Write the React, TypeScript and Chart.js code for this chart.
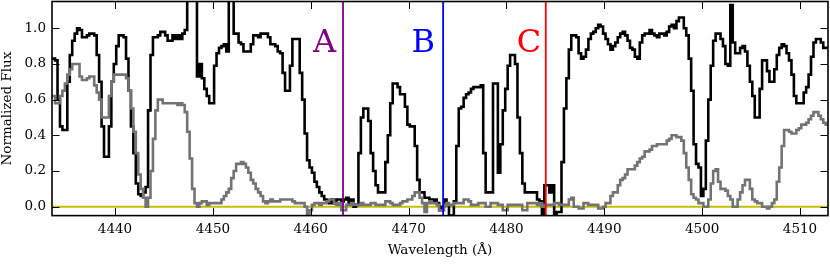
import React, { useEffect, useRef } from "react";
import { Chart, registerables } from "chart.js";

Chart.register(...registerables);

// Wavelength grid of the spectrum (Angstrom)
const WAVE_START = 4433.5;
const WAVE_STEP = 0.25;

// Observed normalized flux (black)
const OBSERVED = [
  0.83, 0.83, 0.82, 0.60, 0.45, 0.43, 0.43, 0.70,
  0.85, 0.93, 0.97, 1.00, 0.99, 0.95, 0.95, 0.96,
  0.97, 0.97, 0.96, 0.85, 0.70, 0.45, 0.28, 0.28,
  0.45, 0.70, 0.80, 0.90, 0.96, 0.96, 0.95, 0.83,
  0.65, 0.45, 0.30, 0.13, 0.07, 0.06, 0.08, 0.11,
  0.54, 0.85, 0.95, 0.95, 0.96, 0.98, 0.98, 0.96,
  0.93, 0.93, 0.96, 0.94, 0.96, 0.94, 0.97, 0.99,
  1.20, 1.20, 1.20, 1.20, 0.73, 0.80, 0.72, 0.66,
  0.62, 0.58, 0.58, 0.79, 0.86, 0.89, 0.90, 0.91,
  0.87, 1.20, 1.20, 0.97, 0.97, 0.92, 0.91, 0.87,
  0.87, 0.87, 0.91, 0.96, 0.96, 0.95, 0.97, 0.97,
  0.97, 0.95, 0.91, 0.91, 0.90, 0.87, 0.86, 0.75,
  0.65, 0.65, 0.79, 0.94, 0.94, 0.94, 0.75, 0.60,
  0.41, 0.26, 0.22, 0.19, 0.14, 0.11, 0.08, 0.06,
  0.04, 0.03, 0.02, 0.04, 0.02, 0.04, 0.04, 0.03,
  0.04, 0.05, 0.02, 0.04, 0.00, 0.01, 0.30, 0.50,
  0.55, 0.55, 0.48, 0.30, 0.20, 0.12, 0.08, 0.08,
  0.08, 0.25, 0.40, 0.58, 0.69, 0.69, 0.67, 0.63,
  0.63, 0.56, 0.46, 0.45, 0.45, 0.34, 0.15, 0.08,
  0.08, 0.05, 0.05, 0.04, 0.03, 0.04, 0.02, -0.02,
  0.00, 0.04, 0.01, -0.05, -0.05, 0.03, 0.34, 0.55,
  0.56, 0.61, 0.63, 0.64, 0.66, 0.67, 0.67, 0.67,
  0.68, 0.30, 0.08, 0.08, 0.08, 0.69, 0.69, 0.19,
  0.35, 0.54, 0.66, 0.79, 0.85, 0.85, 0.80, 0.50,
  0.30, 0.13, 0.08, 0.08, 0.08, 0.08, 0.08, 0.04,
  0.03, -0.05, 0.12, 0.12, 0.08, 0.12, -0.05, -0.03,
  -0.03, 0.25, 0.55, 0.72, 0.88, 0.96, 0.96, 0.95,
  0.86, 0.83, 0.84, 0.88, 0.94, 0.97, 0.98, 1.00,
  1.02, 1.01, 0.97, 0.94, 0.91, 0.88, 0.90, 0.92,
  0.95, 0.97, 0.98, 0.96, 0.93, 0.89, 0.88, 0.84,
  0.83, 0.92, 0.96, 0.97, 0.97, 0.99, 0.97, 0.96,
  0.95, 0.97, 0.97, 0.96, 0.98, 1.01, 1.02, 1.00,
  1.04, 1.06, 1.06, 1.00, 0.96, 0.83, 0.65, 0.35,
  0.24, 0.22, 0.06, 0.10, 0.37, 0.60, 0.79, 0.93,
  0.97, 0.97, 0.94, 0.90, 0.80, 0.79, 1.13, 0.92,
  0.86, 0.86, 0.89, 0.90, 0.87, 0.79, 0.70, 0.62,
  0.50, 0.50, 0.66, 0.82, 0.82, 0.76, 0.70, 0.70,
  0.77, 0.85, 0.89, 0.91, 0.90, 0.86, 0.82, 0.74,
  0.62, 0.58, 0.58, 0.58, 0.64, 0.67, 0.74, 0.84,
  0.92, 0.94, 0.94, 0.92, 0.89, 0.89, 0.89,
];

// Model normalized flux (grey)
const MODEL = [
  0.62, 0.62, 0.58, 0.58, 0.62, 0.65, 0.69, 0.74,
  0.77, 0.80, 0.80, 0.80, 0.73, 0.71, 0.71, 0.72,
  0.73, 0.73, 0.68, 0.64, 0.60, 0.50, 0.50, 0.50,
  0.62, 0.70, 0.74, 0.74, 0.74, 0.74, 0.74, 0.72,
  0.65, 0.55, 0.42, 0.30, 0.18, 0.10, 0.05, 0.00,
  0.05, 0.20, 0.38, 0.54, 0.60, 0.60, 0.58, 0.58,
  0.58, 0.58, 0.58, 0.58, 0.57, 0.58, 0.57, 0.53,
  0.42, 0.27, 0.10, 0.02, 0.00, 0.02, 0.03, 0.03,
  0.01, 0.02, 0.02, 0.02, 0.02, 0.02, 0.04, 0.06,
  0.08, 0.10, 0.16, 0.20, 0.24, 0.24, 0.25, 0.24,
  0.22, 0.19, 0.15, 0.13, 0.10, 0.08, 0.06, 0.03,
  0.02, 0.03, 0.04, 0.03, 0.03, 0.03, 0.04, 0.04,
  0.04, 0.04, 0.04, 0.03, 0.02, 0.02, 0.02, 0.02,
  0.00, -0.04, -0.02, 0.01, 0.02, 0.02, 0.01, 0.02,
  0.02, 0.03, 0.04, 0.04, 0.02, 0.01, 0.02, -0.02,
  -0.02, 0.01, 0.01, 0.02, 0.01, 0.01, 0.01, 0.02,
  0.01, 0.01, 0.01, 0.02, 0.02, 0.01, 0.01, 0.01,
  0.01, 0.03, 0.03, 0.02, 0.01, 0.01, 0.01, 0.02,
  0.03, 0.03, 0.04, 0.04, 0.06, 0.08, 0.08, 0.05,
  0.02, -0.03, 0.02, 0.03, 0.02, 0.02, 0.01, -0.02,
  -0.02, 0.01, 0.02, 0.01, 0.01, 0.02, 0.02, 0.02,
  0.02, 0.04, 0.04, 0.03, 0.01, 0.01, 0.01, 0.02,
  0.02, 0.02, 0.00, 0.00, 0.02, 0.02, 0.02, 0.01,
  0.01, -0.02, -0.02, 0.01, 0.01, 0.01, 0.01, 0.01,
  0.01, -0.02, -0.02, 0.02, 0.02, 0.02, 0.02, 0.01,
  0.02, 0.00, 0.01, 0.01, 0.01, 0.01, 0.02, 0.02,
  0.01, 0.01, 0.01, 0.01, 0.04, 0.05, 0.00, 0.00,
  -0.01, -0.01, 0.02, 0.02, 0.01, 0.01, 0.01, 0.01,
  -0.01, -0.01, 0.00, 0.02, 0.02, 0.06, 0.08, 0.08,
  0.12, 0.15, 0.16, 0.18, 0.21, 0.21, 0.21, 0.23,
  0.25, 0.27, 0.28, 0.31, 0.31, 0.32, 0.34, 0.34,
  0.35, 0.35, 0.35, 0.35, 0.37, 0.38, 0.40, 0.40,
  0.39, 0.39, 0.37, 0.30, 0.22, 0.15, 0.07, 0.05,
  0.04, 0.02, 0.02, 0.00, 0.00, 0.04, 0.13, 0.20,
  0.21, 0.14, 0.10, 0.10, 0.09, 0.06, 0.04, 0.00,
  0.00, 0.04, 0.08, 0.12, 0.15, 0.15, 0.10, 0.04,
  0.03, 0.02, 0.02, 0.00, 0.00, -0.01, 0.00, 0.02,
  0.04, 0.14, 0.22, 0.34, 0.43, 0.43, 0.42, 0.41,
  0.41, 0.43, 0.44, 0.46, 0.46, 0.47, 0.49, 0.51,
  0.53, 0.53, 0.51, 0.49, 0.47, 0.46, 0.46,
];

const X_TICKS = [4440, 4450, 4460, 4470, 4480, 4490, 4500, 4510];
const Y_TICKS = [0.0, 0.2, 0.4, 0.6, 0.8, 1.0];
const X_LIMITS = [4433.56, 4512.86];
const Y_LIMITS = [-0.05, 1.15];
const ZERO_LEVEL = 0;

const MARKER_NAMES = ["A", "B", "C"];
const MARKER_WAVES = [4463.3, 4473.53, 4484.02];
const MARKER_NAME_WAVES = [4461.4, 4471.5, 4482.3];
const MARKER_NAME_FLUX = 0.869;

const MARKER_COLORS = ["#800080", "#0000ff", "#ff0000"];
const FONT = '"DejaVu Serif", serif';

const framePlugin = {
  id: "frame",
  afterDatasetsDraw(chart: any) {
    const { ctx, chartArea: a, scales } = chart;
    const xs = scales.x;
    const ys = scales.y;
    ctx.save();
    ctx.font = `32px ${FONT}`;
    ctx.textAlign = "center";
    ctx.textBaseline = "alphabetic";
    MARKER_NAMES.forEach((t, i) => {
      ctx.fillStyle = MARKER_COLORS[i];
      ctx.fillText(t, xs.getPixelForValue(MARKER_NAME_WAVES[i]), ys.getPixelForValue(MARKER_NAME_FLUX));
    });
    ctx.strokeStyle = "#000";
    ctx.lineWidth = 1;
    const seg = (x1: number, y1: number, x2: number, y2: number) => {
      ctx.beginPath();
      ctx.moveTo(x1, y1);
      ctx.lineTo(x2, y2);
      ctx.stroke();
    };
    X_TICKS.forEach((v) => {
      const x = Math.round(xs.getPixelForValue(v)) + 0.5;
      seg(x, a.bottom, x, a.bottom - 7.5);
      seg(x, a.top, x, a.top + 7.5);
    });
    Y_TICKS.forEach((v) => {
      const y = Math.round(ys.getPixelForValue(v)) + 0.5;
      seg(a.left, y, a.left + 7.5, y);
      seg(a.right, y, a.right - 7.5, y);
    });
    ctx.lineWidth = 1.6;
    ctx.strokeRect(a.left, a.top, a.right - a.left, a.bottom - a.top);
    ctx.restore();
  },
};

export default function App() {
  const ref = useRef<HTMLCanvasElement | null>(null);
  useEffect(() => {
    if (!ref.current) return;
    const waves = OBSERVED.map((_, i) => WAVE_START + i * WAVE_STEP);
    const observed = OBSERVED.map((f, i) => ({ x: waves[i], y: f }));
    const model = MODEL.map((f, i) => ({ x: waves[i], y: f }));
    const markers = MARKER_WAVES.map((w, i) => ({
      data: [
        { x: w, y: Y_LIMITS[0] },
        { x: w, y: Y_LIMITS[1] },
      ],
      borderColor: MARKER_COLORS[i],
      borderWidth: 1.8,
      pointRadius: 0,
      clip: 0,
    }));
    const chart = new Chart(ref.current, {
      type: "line",
      data: {
        datasets: [
          ...markers,
          { data: model, borderColor: "#737373", borderWidth: 2.6, pointRadius: 0, stepped: "middle", clip: 0 },
          { data: observed, borderColor: "#000000", borderWidth: 2.6, pointRadius: 0, stepped: "middle", clip: 0 },
          {
            data: [
              { x: X_LIMITS[0], y: ZERO_LEVEL },
              { x: X_LIMITS[1], y: ZERO_LEVEL },
            ],
            borderColor: "#c0c000",
            borderWidth: 2,
            pointRadius: 0,
            clip: 0,
          },
        ] as any,
      },
      options: {
        animation: false,
        responsive: false,
        devicePixelRatio: 1,
        layout: { padding: { top: 1.5, right: 2, left: 0, bottom: 0 } },
        plugins: { legend: { display: false }, tooltip: { enabled: false } },
        elements: { line: { tension: 0 } },
        scales: {
          x: {
            type: "linear",
            min: X_LIMITS[0],
            max: X_LIMITS[1],
            grid: { display: false, drawTicks: false },
            border: { display: false },
            afterBuildTicks: (s: any) => {
              s.ticks = X_TICKS.map((v) => ({ value: v }));
            },
            afterFit: (s: any) => {
              s.height = 49.4;
              s.paddingLeft = 0;
              s.paddingRight = 0;
            },
            ticks: {
              autoSkip: false,
              maxRotation: 0,
              padding: 6,
              color: "#000",
              font: { family: FONT, size: 13.5 },
              callback: (v: any) => String(v),
            },
            title: {
              display: true,
              text: "Wavelength (Å)",
              color: "#000",
              font: { family: FONT, size: 13.5 },
              padding: { top: 0, bottom: 6.5 },
            },
          },
          y: {
            type: "linear",
            min: Y_LIMITS[0],
            max: Y_LIMITS[1],
            grid: { display: false, drawTicks: false },
            border: { display: false },
            afterBuildTicks: (s: any) => {
              s.ticks = Y_TICKS.map((v) => ({ value: v }));
            },
            afterFit: (s: any) => {
              s.width = 52;
              s.paddingTop = 0;
              s.paddingBottom = 0;
            },
            ticks: {
              padding: 6,
              color: "#000",
              font: { family: FONT, size: 13.5 },
              callback: (v: any) => Number(v).toFixed(1),
            },
            title: {
              display: true,
              text: "Normalized Flux",
              color: "#000",
              font: { family: FONT, size: 13.5, lineHeight: 1 },
              padding: { top: 0.5, bottom: 0 },
            },
          },
        },
      },
      plugins: [framePlugin],
    });
    return () => chart.destroy();
  }, []);
  return (
    <div style={{ position: "fixed", left: 0, top: 0, width: 830, height: 265, background: "#fff" }}>
      <canvas ref={ref} width={830} height={265} style={{ display: "block", width: 830, height: 265 }} />
    </div>
  );
}
